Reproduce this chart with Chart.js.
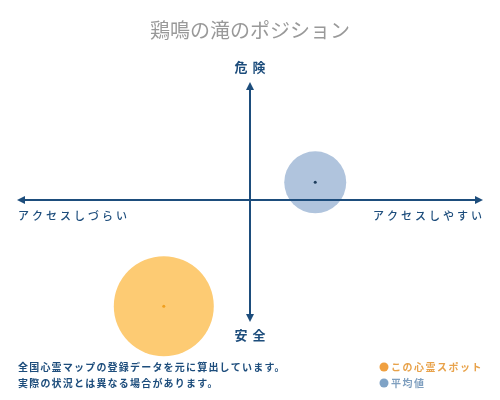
<!DOCTYPE html>
<html>
<head>
<meta charset="utf-8">
<script src="https://cdn.jsdelivr.net/npm/chart.js@4"></script>
<style>
  body { margin:0; background:#fff; }
  #wrap { width:500px; height:400px; }
</style>
</head>
<body>
<div id="wrap"><canvas id="myChart" width="500" height="400"></canvas></div>
<script>
var seriesNames = ["この心霊スポット", "平均値"]
var spotPoint = [{x:-3.7, y:-9.0, r:50}]
var avgPoint = [{x:2.8, y:1.5, r:31}]
var axisLabels = {top:"危険", bottom:"安全", left:"アクセスしづらい", right:"アクセスしやすい"}
var titleText = "鶏鳴の滝のポジション"
var noteLines = ["全国心霊マップの登録データを元に算出しています。", "実際の状況とは異なる場合があります。"]

var FONT = '"Noto Sans CJK JP", "Noto Sans", sans-serif'
var AXIS = "#1d4d7c"

// cross axes drawn over the bubbles, then the centre dots
var axes = {
    id: "axes",
    afterDatasetsDraw(chart){
        const ctx = chart.ctx
        const xs = chart.scales.x, ys = chart.scales.y
        const cx = xs.getPixelForValue(0), cy = ys.getPixelForValue(0)
        const l = xs.left, r = xs.right, t = ys.top, b = ys.bottom + 4
        ctx.save()
        ctx.strokeStyle = AXIS
        ctx.fillStyle = AXIS
        ctx.lineWidth = 2
        ctx.beginPath()
        ctx.moveTo(l+4, cy); ctx.lineTo(r-4, cy)
        ctx.moveTo(cx, t+4); ctx.lineTo(cx, b-4)
        ctx.stroke()
        function head(x, y, dx, dy){
            ctx.beginPath()
            ctx.moveTo(x, y)
            ctx.lineTo(x - dx*8 + dy*4, y - dy*8 + dx*4)
            ctx.lineTo(x - dx*8 - dy*4, y - dy*8 - dx*4)
            ctx.closePath()
            ctx.fill()
        }
        head(l, cy, -1, 0)
        head(r, cy, 1, 0)
        head(cx, t, 0, -1)
        head(cx, b, 0, 1)
        // centre dots
        chart.data.datasets.forEach((d, i) => {
            chart.getDatasetMeta(i).data.forEach(el => {
                ctx.fillStyle = d.dotColor
                ctx.beginPath()
                ctx.arc(el.x, el.y, 1.5, 0, Math.PI*2)
                ctx.fill()
            })
        })
        ctx.restore()
    },
    afterDraw(chart){
        const ctx = chart.ctx
        const xs = chart.scales.x, ys = chart.scales.y
        const cx = xs.getPixelForValue(0), cy = ys.getPixelForValue(0)
        ctx.save()
        ctx.textBaseline = "middle"
        // title
        ctx.fillStyle = "#999999"
        ctx.font = "20px " + FONT
        ctx.textAlign = "center"
        ctx.letterSpacing = "0px"
        ctx.fillText(titleText, 250, 30)
        // top / bottom labels
        ctx.fillStyle = AXIS
        ctx.font = "bold 13px " + FONT
        ctx.letterSpacing = "5px"
        ctx.fillText(axisLabels.top, cx + 2.5, 67)
        ctx.fillText(axisLabels.bottom, cx + 2.5, 335)
        // left / right labels
        ctx.font = "500 11px " + FONT
        ctx.letterSpacing = "3px"
        ctx.textAlign = "left"
        ctx.fillText(axisLabels.left, xs.left + 1, cy + 16)
        ctx.textAlign = "right"
        ctx.fillText(axisLabels.right, xs.right + 2, cy + 16)
        // footer note
        ctx.textAlign = "left"
        ctx.font = "bold 10px " + FONT
        ctx.letterSpacing = "1.2px"
        ctx.fillText(noteLines[0], 18, 367)
        ctx.fillText(noteLines[1], 18, 383)
        // legend
        const ds = chart.data.datasets
        const lcol = ["#e8a24a", "#7f9fbf"]
        for(let i=0;i<ds.length;i++){
            let y = 367 + i*16
            ctx.fillStyle = ds[i].legendDot
            ctx.beginPath()
            ctx.arc(384, y, 4.5, 0, Math.PI*2)
            ctx.fill()
            ctx.fillStyle = lcol[i]
            ctx.font = "bold 10px " + FONT
            ctx.letterSpacing = "1.5px"
            ctx.fillText(ds[i].label, 391, y)
        }
        ctx.restore()
    }
}

const ctx = document.getElementById("myChart")
var chart = new Chart(ctx, {
    type: "bubble",
    data: {
        datasets: [{
            label: seriesNames[0],
            data: spotPoint,
            backgroundColor: "rgb(253,203,115)",
            borderWidth: 0,
            dotColor: "#f0a020",
            legendDot: "#f0a040"
        },
        {
            label: seriesNames[1],
            data: avgPoint,
            backgroundColor: "rgb(176,196,221)",
            borderWidth: 0,
            dotColor: "#1d3d5c",
            legendDot: "#7fa3c6"
        }]
    },
    options: {
        responsive: false,
        animation: false,
        events: [],
        layout: {autoPadding: false, padding: {left:17, right:17, top:82, bottom:82}},
        clip: false,
        scales: {
            x: {display:false, min:-10, max:10},
            y: {display:false, min:-10, max:10}
        },
        plugins: {legend:{display:false}, title:{display:false}, tooltip:{enabled:false}}
    },
    plugins: [axes]
})
</script>
</body>
</html>
